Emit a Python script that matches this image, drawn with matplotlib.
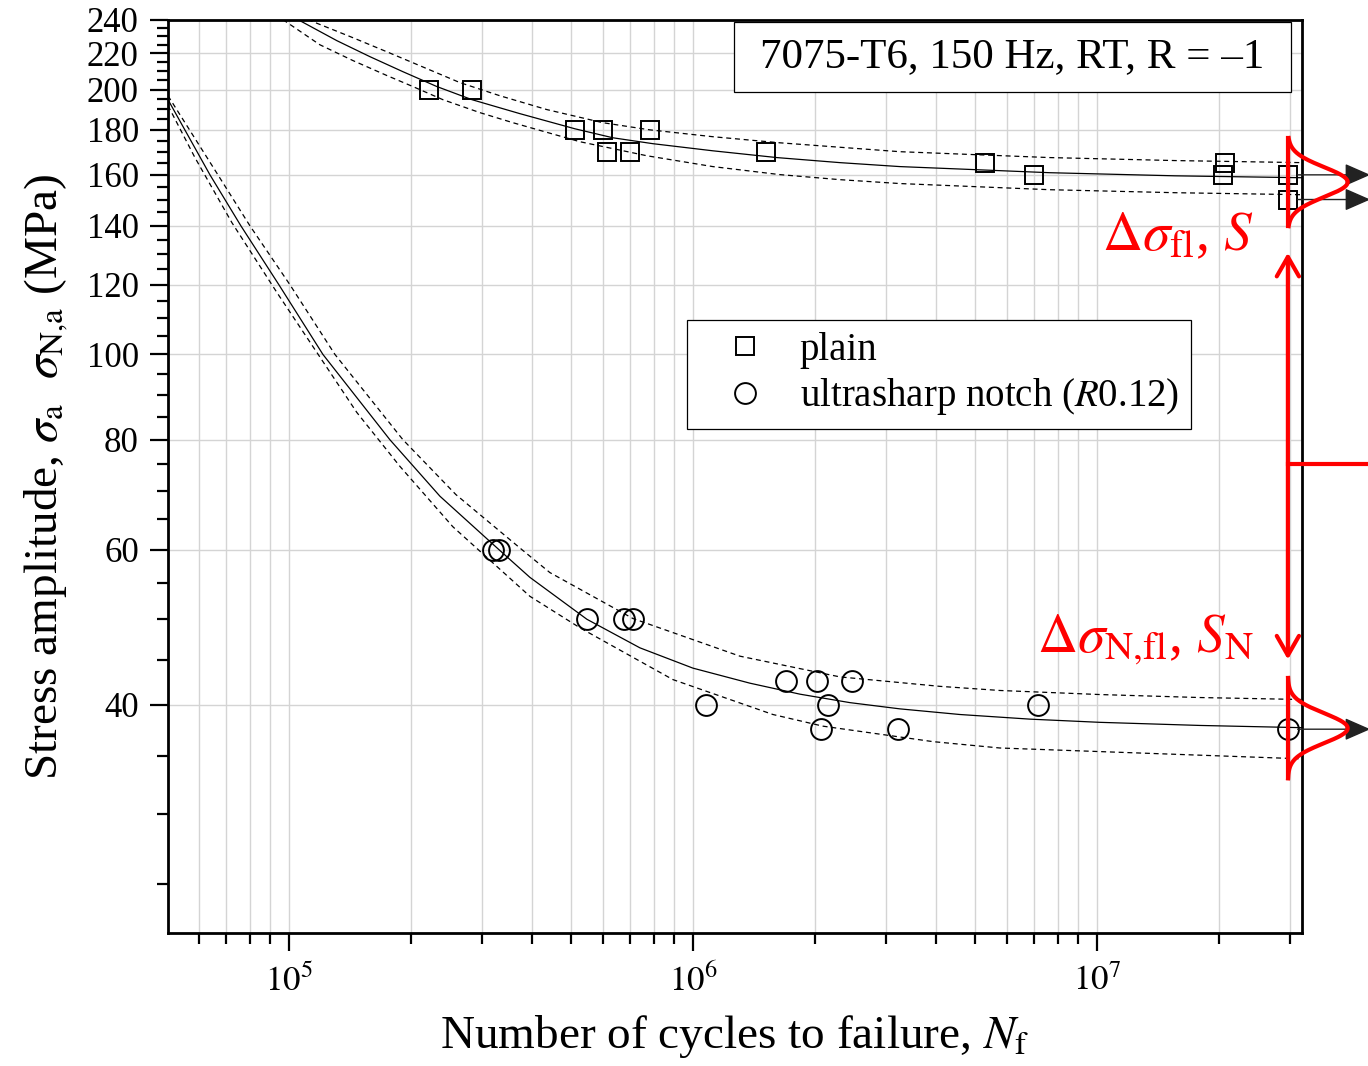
"""S-N curves of 7075-T6, plain vs ultrasharp notch, with fatigue-limit scatter sketch."""
import numpy as np
import matplotlib
matplotlib.use("Agg")
import matplotlib.pyplot as plt
from matplotlib.ticker import FixedLocator, FuncFormatter, LogLocator, NullFormatter
from matplotlib.patches import Rectangle

plt.rcParams["font.family"] = ["Liberation Serif", "DejaVu Serif"]
plt.rcParams["mathtext.fontset"] = "stix"

# --- test data (cycles, stress amplitude in MPa) ---
plain_N = [2.22e5, 2.84e5, 5.10e5, 5.99e5, 7.83e5, 6.12e5, 6.98e5, 1.52e6,
           5.28e6, 6.98e6, 2.08e7, 2.05e7]
plain_S = [200, 200, 180, 180, 180, 170, 170, 170, 165, 160, 165, 160]
plain_runout_N = [2.97e7, 2.97e7]
plain_runout_S = [160, 150]

notch_N = [3.20e5, 3.31e5, 5.47e5, 6.75e5, 7.10e5, 1.08e6, 1.70e6, 2.03e6,
           2.48e6, 2.16e6, 2.08e6, 3.21e6, 7.14e6]
notch_S = [60, 60, 50, 50, 50, 40, 42.5, 42.5, 42.5, 40, 37.5, 37.5, 40]
notch_runout_N = [2.97e7]
notch_runout_S = [37.5]

# --- fitted curves and scatter bands ---
plain_fit_N = [1.053e5, 1.315e5, 1.587e5, 1.915e5, 2.324e5, 2.838e5, 3.73e5, 5.105e5, 6.339e5,
               7.962e5, 1.12e6, 1.614e6, 2.312e6, 3.253e6, 4.989e6, 7.65e6, 1.56e7, 3.217e7]
plain_fit_S = [240.2, 227.3, 218.0, 209.6, 201.6, 194.8, 187.8, 180.5, 176.3,
               173.6, 170.4, 167.4, 165.2, 163.5, 162.2, 160.9, 159.6, 158.8]
plain_hi_N = [1.114e5, 1.44e5, 1.748e5, 2.11e5, 2.65e5, 3.329e5, 4.351e5, 5.987e5, 7.827e5,
              1.12e6, 1.642e6, 3.253e6, 7.65e6, 1.56e7, 3.217e7]
plain_hi_S = [240.2, 229.1, 220.8, 212.9, 203.7, 196.8, 189.8, 183.4, 180.0,
              176.8, 174.0, 170.0, 167.4, 166.1, 165.2]
plain_lo_N = [9.663e4, 1.193e5, 1.44e5, 1.748e5, 2.027e5, 2.405e5, 2.97e5, 3.585e5,
              5.252e5, 7.693e5, 1.12e6, 1.642e6, 2.312e6, 3.253e6, 7.65e6, 1.56e7, 3.217e7]
plain_lo_S = [240.2, 224.9, 215.8, 207.5, 201.6, 194.8, 188.3, 183.4,
              174.5, 168.2, 163.5, 160.1, 158.0, 156.4, 153.9, 152.7, 151.9]

notch_fit_N = [5.02e4, 6.377e4, 7.607e4, 9.446e4, 1.214e5, 1.778e5, 2.365e5, 3.31e5,
               3.949e5, 5.466e5, 7.393e5, 1.0e6, 1.384e6, 1.841e6, 2.447e6, 3.253e6,
               4.58e6, 6.83e6, 1.017e7, 1.799e7, 3.217e7]
notch_fit_S = [194.8, 160.0, 140.0, 120.0, 100.0, 80.0, 69.0, 60.0,
               55.8, 50.0, 46.4, 44.0, 42.3, 41.1, 40.2, 39.55,
               38.97, 38.5, 38.18, 37.87, 37.65]
notch_hi_N = [5.02e4, 6.673e4, 8.01e4, 1.006e5, 1.30e5, 1.915e5, 2.59e5, 3.773e5, 4.426e5,
              7.105e5, 1.307e6, 2.312e6, 4.088e6, 5.75e6, 1.017e7, 1.799e7, 3.217e7]
notch_hi_S = [196.8, 160.0, 140.0, 120.0, 100.0, 80.0, 69.3, 60.0, 56.5,
              50.1, 45.4, 43.0, 41.95, 41.5, 41.06, 40.74, 40.53]
notch_lo_N = [5.02e4, 5.853e4, 7.225e4, 9.339e4, 1.473e5, 1.883e5, 2.546e5, 3.949e5,
              5.252e5, 8.922e5, 1.578e6, 2.098e6, 3.927e6, 5.75e6, 1.352e7, 3.217e7]
notch_lo_S = [191.8, 167.4, 141.2, 117.6, 85.9, 74.6, 63.7, 53.1,
              48.9, 42.7, 38.97, 37.8, 36.3, 35.7, 35.2, 34.7]

# fatigue-limit distributions (centre stress, half span in log10 S)
bell_N = 2.97e7
bell_centres = [157.0, 37.6]
bell_spans = [0.050, 0.057]
arrow_top_S, arrow_bot_S, mid_S = 130.5, 45.0, 75.0

y_major = [40, 60, 80, 100, 120, 140, 160, 180, 200, 220, 240]
y_minor = [25, 30, 35, 45, 50, 55, 65, 70, 75, 85, 90, 95, 105, 110, 115, 125, 130, 135,
           145, 150, 155, 165, 170, 175, 185, 190, 195, 205, 210, 215, 225, 230, 235]

fig = plt.figure(figsize=(13.68, 10.66), dpi=100)
ax = fig.add_axes([0.1228, 0.1248, 0.8290, 0.8565])
ax.set_xscale("log")
ax.set_yscale("log")
ax.set_xlim(5.02e4, 3.22e7)
ax.set_ylim(22, 240)

ax.yaxis.set_major_locator(FixedLocator(y_major))
ax.yaxis.set_minor_locator(FixedLocator(y_minor))
ax.yaxis.set_major_formatter(FuncFormatter(lambda v, p: f"{v:.0f}"))
ax.yaxis.set_minor_formatter(NullFormatter())
ax.xaxis.set_major_locator(LogLocator(base=10))
ax.xaxis.set_minor_locator(LogLocator(base=10, subs=range(2, 10), numticks=20))
ax.xaxis.set_major_formatter(FuncFormatter(lambda v, p: r"$10^{%d}$" % round(np.log10(v))))
ax.xaxis.set_minor_formatter(NullFormatter())

ax.grid(True, which="major", axis="both", color="#d4d4d4", lw=1.0)
ax.grid(True, which="minor", axis="x", color="#d4d4d4", lw=1.0)
ax.set_axisbelow(True)

for s in ax.spines.values():
    s.set_linewidth(2.0)
ax.tick_params(which="major", direction="out", length=13, width=1.6, labelsize=25, pad=8,
               top=False, right=False)
ax.tick_params(which="minor", direction="out", length=8, width=1.6, top=False, right=False)
ax.tick_params(axis="x", which="major", labelsize=25, pad=10)

# fits
kw = dict(color="black", lw=0.9)
dkw = dict(color="black", lw=0.9, ls=(0, (4, 3)))
ax.plot(plain_fit_N, plain_fit_S, **kw)
ax.plot(plain_hi_N, plain_hi_S, **dkw)
ax.plot(plain_lo_N, plain_lo_S, **dkw)
ax.plot(notch_fit_N, notch_fit_S, **kw)
ax.plot(notch_hi_N, notch_hi_S, **dkw)
ax.plot(notch_lo_N, notch_lo_S, **dkw)

# data points
mk_sq = dict(marker="s", ms=13, mfc="none", mec="black", mew=1.4, ls="none")
mk_ci = dict(marker="o", ms=15, mfc="none", mec="black", mew=1.4, ls="none")
ax.plot(plain_N, plain_S, label="plain", **mk_sq)
ax.plot(plain_runout_N, plain_runout_S, **mk_sq)
ax.plot(notch_N, notch_S, label="ultrasharp notch ($R$0.12)", **mk_ci)
ax.plot(notch_runout_N, notch_runout_S, **mk_ci)

# runout arrows
for n, s in zip(plain_runout_N + notch_runout_N, plain_runout_S + notch_runout_S):
    ax.annotate("", xy=(4.75e7, s), xytext=(n, s), annotation_clip=False,
                arrowprops=dict(arrowstyle="-|>,head_length=0.8,head_width=0.35",
                                mutation_scale=20, color="#222222", lw=1.0,
                                shrinkA=7, shrinkB=0))

# fatigue-limit scatter bells
red = "#ff0000"
for c, span in zip(bell_centres, bell_spans):
    ly = np.linspace(np.log10(c) - span, np.log10(c) + span, 200)
    bump = 0.148 * np.exp(-0.5 * ((ly - np.log10(c)) / 0.017) ** 2)
    ax.plot(bell_N * 10 ** bump, 10 ** ly, color=red, lw=3, clip_on=False, zorder=5)
    ax.plot([bell_N, bell_N], [10 ** ly[0], 10 ** ly[-1]], color=red, lw=3,
            clip_on=False, zorder=5)

ax.annotate("", xy=(bell_N, arrow_top_S), xytext=(bell_N, arrow_bot_S),
            arrowprops=dict(arrowstyle="<->,head_length=0.7,head_width=0.4",
                            mutation_scale=20, color=red, lw=3, shrinkA=0, shrinkB=0))
ax.plot([bell_N, 1e8], [mid_S, mid_S], color=red, lw=3, clip_on=False, zorder=5)

ax.text(2.44e7, 131.2, r"$\Delta\sigma_{\rm fl}$, $S$", color=red, fontsize=40,
        ha="right", va="baseline")
ax.text(2.44e7, 45.9, r"$\Delta\sigma_{\rm N{,}fl}$, $S_{\rm N}$", color=red, fontsize=40,
        ha="right", va="baseline")

# condition box
ax.add_patch(Rectangle((0.4991, 0.9211), 0.4912, 0.0767, transform=ax.transAxes,
                       fc="white", ec="black", lw=0.9, zorder=6))
ax.text(0.7447, 0.9595, "7075-T6, 150 Hz, RT, R = \u20131", transform=ax.transAxes,
        fontsize=31, ha="center", va="center", zorder=7)

leg = ax.legend(loc="upper left", bbox_to_anchor=(0.4577, 0.6714), borderaxespad=0,
                fontsize=28, fancybox=False, framealpha=1, edgecolor="black",
                handlelength=2.4, handletextpad=0.2, labelspacing=0.2, borderpad=0.3)
leg.get_frame().set_linewidth(0.9)

ax.set_xlabel(r"Number of cycles to failure, $N_{\rm f}$", fontsize=34, labelpad=10)
ax.set_ylabel(r"Stress amplitude, $\sigma_{\rm a}$  $\sigma_{\rm N{,}a}$ (MPa)",
              fontsize=34, labelpad=12)

fig.savefig("out.png", dpi=100)
